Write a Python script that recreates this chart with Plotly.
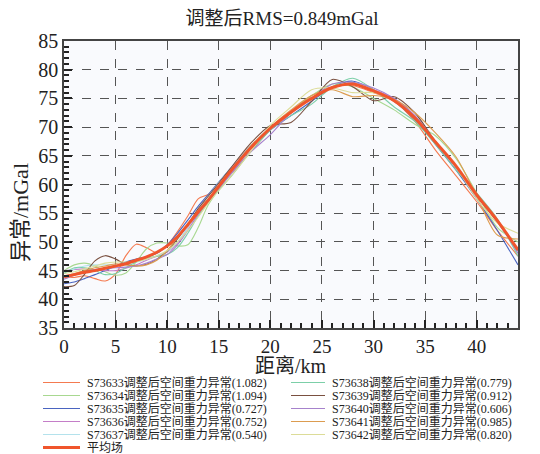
import plotly.graph_objects as go

# ---------------- data ----------------
distance_km = [0, 1, 2, 3, 4, 5, 6, 7, 8, 9, 10, 11, 12, 13, 14,
               16, 18, 20, 22, 24, 26, 28, 30, 32, 34, 36, 38, 40, 42, 44]

s73633 = [44.0, 43.8, 44.1, 43.6, 43.2, 44.4, 47.6, 49.6, 49.0, 48.1, 49.4, 51.8, 54.5, 57.5, 58.3,
          61.5, 65.5, 69.5, 72.5, 75.5, 77.0, 77.2, 76.0, 74.5, 71.0, 66.0, 61.5, 57.0, 52.0, 47.5]
s73634 = [45.0, 46.0, 46.3, 45.8, 44.8, 44.2, 44.6, 46.5, 48.8, 49.8, 49.8, 49.3, 49.5, 52.5, 56.5,
          61.5, 66.0, 70.0, 72.8, 75.5, 77.5, 77.0, 75.0, 73.0, 70.5, 68.5, 64.5, 58.5, 52.5, 50.0]
s73635 = [42.7, 43.0, 43.6, 44.3, 45.0, 45.8, 46.5, 47.0, 47.4, 48.0, 49.5, 51.5, 53.8, 56.2, 58.3,
          62.5, 66.5, 69.5, 72.0, 74.5, 77.0, 78.0, 76.5, 74.5, 71.3, 67.0, 62.5, 57.5, 52.0, 46.0]
s73636 = [45.0, 45.2, 45.3, 45.2, 45.0, 45.0, 45.4, 46.0, 46.8, 47.5, 48.2, 49.8, 52.5, 55.0, 57.0,
          61.5, 66.0, 69.5, 72.5, 75.0, 77.0, 77.5, 76.5, 75.0, 72.0, 67.5, 63.0, 58.0, 53.5, 48.5]
s73637 = [44.5, 45.3, 45.8, 46.0, 46.0, 46.0, 46.2, 46.5, 47.0, 47.6, 48.3, 50.0, 52.5, 55.5, 58.0,
          62.5, 66.5, 70.0, 72.5, 75.0, 77.0, 77.8, 76.5, 74.5, 71.5, 67.5, 63.0, 58.0, 53.5, 48.0]
s73638 = [44.5, 45.5, 45.5, 45.0, 44.3, 44.5, 45.5, 46.5, 47.2, 47.5, 47.8, 49.0, 51.5, 54.5, 57.0,
          61.0, 65.5, 69.5, 72.0, 74.0, 77.0, 78.5, 76.5, 73.5, 71.0, 67.0, 62.5, 58.5, 54.0, 47.5]
s73639 = [42.2, 42.4, 44.4, 46.7, 47.6, 47.0, 46.1, 45.8, 46.1, 47.0, 48.4, 50.5, 53.0, 55.8, 58.0,
          62.5, 67.0, 70.3, 70.8, 74.5, 78.3, 77.0, 74.6, 75.3, 72.5, 67.5, 63.0, 58.0, 53.5, 48.5]
s73640 = [43.5, 44.2, 44.8, 45.2, 45.4, 45.5, 45.6, 45.8, 46.3, 47.0, 47.8, 49.5, 52.0, 54.8, 57.2,
          61.5, 65.5, 68.7, 72.5, 75.0, 77.5, 77.8, 76.8, 75.0, 72.0, 67.5, 63.0, 58.0, 53.8, 48.0]
s73641 = [44.0, 44.5, 45.0, 45.5, 45.8, 46.2, 46.0, 45.8, 46.0, 46.8, 48.5, 50.8, 53.2, 55.5, 57.5,
          62.0, 66.5, 70.0, 73.0, 75.5, 76.5, 75.3, 75.5, 74.8, 72.5, 69.0, 64.8, 58.0, 51.2, 50.5]
s73642 = [44.5, 44.8, 45.3, 45.8, 46.3, 46.5, 46.5, 46.6, 47.0, 47.6, 48.5, 50.0, 52.0, 54.3, 56.8,
          61.0, 65.5, 70.3, 73.5, 76.5, 76.8, 76.0, 76.0, 74.5, 71.5, 67.5, 63.0, 57.5, 53.3, 51.5]
mean_field = [43.9, 44.3, 44.7, 45.0, 45.4, 45.8, 46.2, 46.8, 47.4, 48.2, 49.3, 50.9, 53.0, 55.2, 57.3,
              62.0, 66.2, 69.8, 72.6, 75.0, 76.9, 77.5, 76.3, 74.6, 71.6, 67.4, 63.2, 58.2, 53.7, 48.6]

series_names = [
    "S73633调整后空间重力异常(1.082)", "S73634调整后空间重力异常(1.094)",
    "S73635调整后空间重力异常(0.727)", "S73636调整后空间重力异常(0.752)",
    "S73637调整后空间重力异常(0.540)", "S73638调整后空间重力异常(0.779)",
    "S73639调整后空间重力异常(0.912)", "S73640调整后空间重力异常(0.606)",
    "S73641调整后空间重力异常(0.985)", "S73642调整后空间重力异常(0.820)",
]
series_values = [s73633, s73634, s73635, s73636, s73637,
                 s73638, s73639, s73640, s73641, s73642]
series_colors = ["#f47a50", "#a8d890", "#4a64c0", "#c47ec8", "#b4e2ec",
                 "#7ccfa8", "#7a5040", "#a682cc", "#dc9c50", "#dcdc98"]
mean_name = "平均场"
mean_color = "#f0552c"

x_ticks = [0, 5, 10, 15, 20, 25, 30, 35, 40]
y_ticks = [35, 40, 45, 50, 55, 60, 65, 70, 75, 80, 85]

# ---------------- figure ----------------
OFF = 8                      # page body margin in the browser window
W, H = 540 - OFF, 454 - OFF
ML, MR, MT, MB = 64 - OFF, 22, 41 - OFF, 126
PW, PH = W - ML - MR, H - MT - MB

FONT = "Liberation Serif, Noto Sans CJK SC, serif"

fig = go.Figure()
for name, vals, col in zip(series_names, series_values, series_colors):
    fig.add_trace(go.Scatter(x=distance_km, y=vals, mode="lines", name=name,
                             line=dict(color=col, width=1.1, shape="spline", smoothing=0.8),
                             showlegend=False))
fig.add_trace(go.Scatter(x=distance_km, y=mean_field, mode="lines", name=mean_name,
                         line=dict(color=mean_color, width=3, shape="spline", smoothing=0.8),
                         showlegend=False))


def px_to_paper(px, py):
    """window pixel -> paper coordinates"""
    return (px - OFF - ML) / PW, (H - MB - (py - OFF)) / PH


# custom legend (two columns, compact rows)
entries = list(zip(series_names, series_colors, [1.1] * 10)) + [(mean_name, mean_color, 3)]
row_y0, row_dy = 382.5, 13.0
shapes, annotations = [], []
for i, (name, col, lw) in enumerate(entries):
    if i < 5:
        c, r = 0, i
    elif i < 10:
        c, r = 1, i - 5
    else:
        c, r = 0, 5
    lx0, lx1, tx = ((43, 80, 85) if c == 0 else (291, 325, 330))
    py = row_y0 + r * row_dy
    x0, y0 = px_to_paper(lx0, py)
    x1, _ = px_to_paper(lx1, py)
    xt, _ = px_to_paper(tx, py)
    shapes.append(dict(type="line", xref="paper", yref="paper", x0=x0, x1=x1, y0=y0, y1=y0,
                       line=dict(color=col, width=lw)))
    annotations.append(dict(xref="paper", yref="paper", x=xt, y=y0, text=name, showarrow=False,
                            xanchor="left", yanchor="middle",
                            font=dict(family=FONT, size=12, color="#222")))

# axis titles placed as in the reference
xt_x, xt_y = px_to_paper(291, 366)
annotations.append(dict(xref="paper", yref="paper", x=xt_x, y=xt_y, text="距离/km",
                        showarrow=False, xanchor="center", yanchor="middle",
                        font=dict(family=FONT, size=20, color="#222")))
yt_x, yt_y = px_to_paper(20, 213)
annotations.append(dict(xref="paper", yref="paper", x=yt_x, y=yt_y, text="异常/mGal",
                        showarrow=False, xanchor="center", yanchor="middle", textangle=-90,
                        font=dict(family=FONT, size=22, color="#222")))

fig.update_layout(
    width=W, height=H,
    margin=dict(l=ML, r=MR, t=MT, b=MB, autoexpand=False),
    paper_bgcolor="white",
    plot_bgcolor="#f9fafd",
    font=dict(family=FONT, color="#222"),
    title=dict(text="调整后RMS=0.849mGal", x=(282 - OFF) / W, xanchor="center",
               y=1 - (18 - OFF) / H, yanchor="middle", font=dict(size=19, family=FONT)),
    showlegend=False,
    shapes=shapes,
    annotations=annotations,
)
fig.update_xaxes(
    range=[0, 44], tickvals=x_ticks, ticktext=[str(v) for v in x_ticks],
    showline=True, linecolor="#444", linewidth=1.5, mirror=True,
    ticks="inside", ticklen=8, tickwidth=1.5, tickcolor="#222",
    minor=dict(dtick=1, ticks="inside", ticklen=5, tickcolor="#222", showgrid=False),
    showgrid=True, gridcolor="#555", griddash="dash", gridwidth=1,
    zeroline=False, tickfont=dict(size=19, family=FONT), automargin=False,
)
fig.update_yaxes(
    range=[35, 85], tickvals=y_ticks, ticktext=[str(v) for v in y_ticks],
    showline=True, linecolor="#444", linewidth=1.5, mirror=True,
    ticks="inside", ticklen=8, tickwidth=1.5, tickcolor="#222",
    minor=dict(dtick=1, ticks="inside", ticklen=5, tickcolor="#222", showgrid=False),
    showgrid=True, gridcolor="#555", griddash="dash", gridwidth=1,
    zeroline=False, tickfont=dict(size=20, family=FONT), automargin=False,
)

fig.write_html("out.html")
